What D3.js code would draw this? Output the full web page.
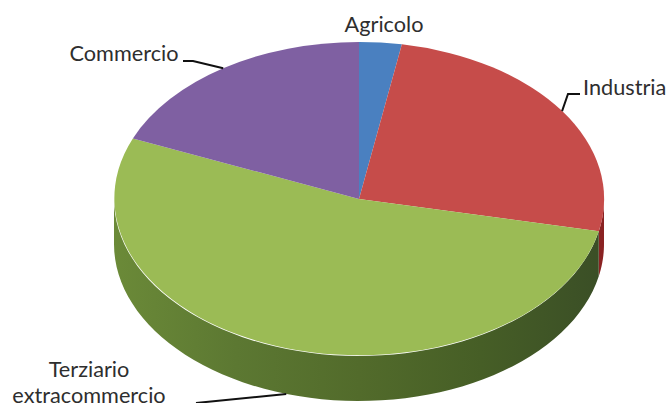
<!DOCTYPE html>
<html>
<head>
<meta charset="utf-8">
<script src="https://cdn.jsdelivr.net/npm/d3@7/dist/d3.min.js"></script>
<style>
html,body{margin:0;padding:0;background:#fff;overflow:hidden}
svg{display:block}
text{font-family:Lato,"Open Sans",sans-serif;font-size:21.7px;fill:#2e2e2e}
</style>
</head>
<body>
<svg id="chart" width="666" height="403"></svg>
<script>
// Sector shares of the pie, clockwise from twelve o'clock
const categories = ["Agricolo", "Industria", "Terziario extracommercio", "Commercio"];
const shares = [2.8, 25.5, 53, 18.7];
const topColors = ["#4a80c0", "#c64c4a", "#9bbb55", "#7f60a2"];
const wallColors = [
  ["#2f5480", "#2f5480"],
  ["#a82c2c", "#8a2222"],
  ["#6b8a38", "#5c7832", "#526b2b", "#465e26", "#3a4e26"],
  ["#54406c", "#54406c"]
];

const width = 666, height = 403;
const cx = 359, cy = 199, rx = 245, ry = 157, depth = 45;

const svg = d3.select("#chart");
const defs = svg.append("defs");

const slices = d3.pie().sort(null).value(d => d)(shares);
const unitArc = d3.arc().innerRadius(0).outerRadius(1);
const rim = (a, dy = 0) => [cx + rx * Math.sin(a), cy - ry * Math.cos(a) + dy];

// Horizontal shading for each sector's side wall
wallColors.forEach((stops, i) => {
  const g = defs.append("linearGradient")
    .attr("id", "wall" + i)
    .attr("gradientUnits", "userSpaceOnUse")
    .attr("x1", cx - rx).attr("x2", cx + rx).attr("y1", 0).attr("y2", 0);
  stops.forEach((c, k) => g.append("stop")
    .attr("offset", k / Math.max(1, stops.length - 1))
    .attr("stop-color", c));
});

// Side wall: the part of each sector's rim that faces the viewer (90° to 270°)
const line = d3.line();
const wall = svg.append("g");
slices.forEach((s, i) => {
  const a0 = Math.max(s.startAngle, Math.PI / 2);
  const a1 = Math.min(s.endAngle, Math.PI * 1.5);
  if (a1 <= a0) return;
  const steps = d3.range(0, 61).map(k => a0 + (a1 - a0) * k / 60);
  const pts = steps.map(a => rim(a)).concat(steps.slice().reverse().map(a => rim(a, depth)));
  wall.append("path")
    .attr("d", line(pts) + "Z")
    .attr("fill", `url(#wall${i})`);
});

// Top face: unit-circle arcs stretched into an ellipse
svg.append("g")
  .attr("transform", `translate(${cx},${cy}) scale(${rx},${ry})`)
  .selectAll("path")
  .data(slices)
  .join("path")
  .attr("d", unitArc)
  .attr("fill", (d, i) => topColors[i]);

// Labels: text lines with an optional leader running to the slice's mid-angle
const labelLines = [["Agricolo"], ["Industria"], ["Terziario", "extracommercio"], ["Commercio"]];
const labelAnchor = [[384, 32], [583, 95], [89, 377], [124, 61]];
const leaderBend = [null, [568, 94], null, [193, 61]];
const leaderStart = [null, [580, 94], [196, 403], [183, 61]];
const lineGap = 26;

slices.forEach((s, i) => {
  const [tx, ty] = labelAnchor[i];
  const t = svg.append("text")
    .attr("text-anchor", i === 1 ? "start" : "middle")
    .attr("x", tx).attr("y", ty);
  labelLines[i].forEach((l, k) => t.append("tspan")
    .attr("x", tx).attr("dy", k ? lineGap : 0).text(l));

  if (!leaderStart[i]) return;
  const mid = (s.startAngle + s.endAngle) / 2;
  const facing = Math.cos(mid) < 0;
  const end = rim(mid, facing ? depth : 0);
  const pts = [leaderStart[i], leaderBend[i], end].filter(Boolean);
  svg.append("path")
    .attr("d", line(pts))
    .attr("fill", "none")
    .attr("stroke", "#111")
    .attr("stroke-width", 2);
});
</script>
</body>
</html>
